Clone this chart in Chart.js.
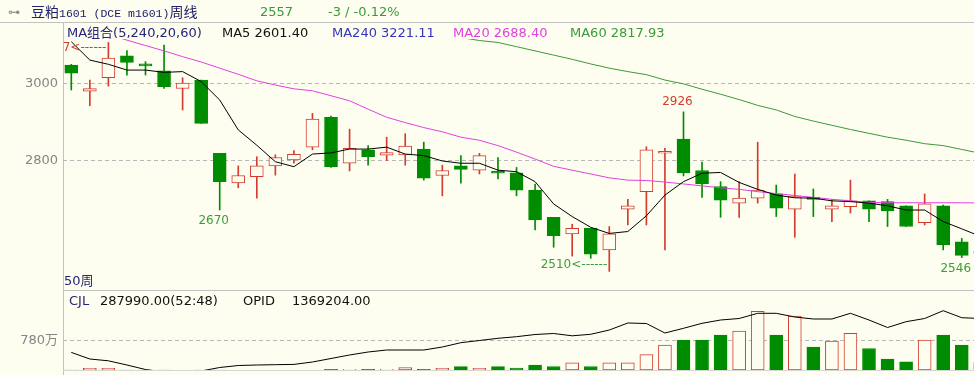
<!DOCTYPE html>
<html>
<head>
<meta charset="utf-8">
<script src="https://cdn.jsdelivr.net/npm/chart.js@4.4.0/dist/chart.umd.min.js"></script>
<style>
body{margin:0;background:#fefef0;width:974px;height:375px;overflow:hidden;position:relative;font-family:"DejaVu Sans","Noto Sans CJK SC",sans-serif;font-size:13px;}
.t{position:absolute;white-space:nowrap;line-height:14px;z-index:3;}
.ln{position:absolute;background:#c2c2c2;z-index:1;}
canvas{position:absolute;left:0;z-index:2;}
.cj{font-family:"Noto Sans CJK SC",sans-serif;font-size:14px;}
.mono{font-family:"Liberation Mono",monospace;font-size:11.5px;}
</style>
</head>
<body>
<div class="ln" style="left:0;top:22px;width:974px;height:1px"></div>
<div class="ln" style="left:63px;top:22px;width:1px;height:353px"></div>
<div class="ln" style="left:63px;top:290px;width:911px;height:1px"></div>
<div class="ln" style="left:63px;top:370px;width:911px;height:1px;background:#d6d6d6"></div>

<canvas id="pc" width="974" height="252" style="top:39px"></canvas>
<canvas id="vc" width="974" height="84" style="top:291px"></canvas>

<div class="t" style="left:8px;top:5px;color:#8a8a8a;font-size:12px">⊶</div>
<div class="t" style="left:31px;top:4px;color:#20206a"><span class="cj">豆粕</span><span class="mono">1601 (DCE m1601)</span><span class="cj">周线</span></div>
<div class="t" style="left:260px;top:5px;color:#3a9a3a">2557</div>
<div class="t" style="left:328px;top:5px;color:#3a9a3a">-3 / -0.12%</div>

<div class="t" style="left:67px;top:26px;color:#25257a">MA组合(5,240,20,60)</div>
<div class="t" style="left:222px;top:26px;color:#111">MA5 2601.40</div>
<div class="t" style="left:332px;top:26px;color:#3535c0">MA240 3221.11</div>
<div class="t" style="left:453px;top:26px;color:#e040e0">MA20 2688.40</div>
<div class="t" style="left:570px;top:26px;color:#3a9a3a">MA60 2817.93</div>

<div class="t" style="left:64px;top:274px;color:#25257a">50周</div>
<div class="t" style="left:69px;top:294px;color:#25257a">CJL</div>
<div class="t" style="left:100px;top:294px;color:#111">287990.00(52:48)</div>
<div class="t" style="left:243px;top:294px;color:#111">OPID</div>
<div class="t" style="left:292px;top:294px;color:#111">1369204.00</div>

<script>
// 50 weekly bars, the last one sits just past the right edge
var weeks = [1,2,3,4,5,6,7,8,9,10,11,12,13,14,15,16,17,18,19,20,21,22,23,24,25,26,27,28,29,30,31,32,33,34,35,36,37,38,39,40,41,42,43,44,45,46,47,48,49,50];
var open  = [3048,2980,3015,3072,3051,3033,2987,3009,2818,2741,2757,2785,2801,2834,2912,2792,2827,2813,2814,2829,2760,2785,2774,2770,2767,2722,2651,2608,2622,2566,2672,2718,2818,2855,2773,2731,2688,2701,2712,2672,2701,2672,2679,2694,2692,2681,2637,2681,2587,2560];
var high  = [3050,3009,3107,3086,3057,3100,3015,3009,2818,2785,2809,2814,2825,2922,2915,2881,2838,2860,2869,2847,2787,2812,2818,2807,2781,2738,2651,2633,2622,2627,2698,2835,2831,2926,2795,2744,2744,2847,2735,2764,2725,2698,2748,2694,2698,2681,2712,2683,2596,2572];
var low   = [2983,2942,2993,3022,3022,2987,2931,2896,2670,2728,2701,2761,2792,2827,2781,2772,2787,2799,2787,2748,2707,2740,2764,2751,2707,2618,2573,2550,2544,2510,2631,2631,2566,2759,2703,2651,2651,2688,2653,2599,2653,2640,2662,2640,2627,2627,2631,2566,2546,2548];
var close = [3027,2987,3066,3055,3046,2992,3001,2896,2744,2760,2785,2807,2815,2907,2783,2831,2809,2820,2837,2753,2773,2776,2812,2766,2722,2644,2603,2622,2555,2608,2681,2827,2822,2767,2738,2696,2701,2722,2675,2705,2698,2681,2694,2672,2668,2627,2686,2579,2552,2557];

var ma5  = [3109,3061,3050,3035,3035,3029,3031,3005,2957,2879,2839,2796,2783,2816,2819,2829,2829,2834,2816,2812,2798,2792,2792,2774,2770,2744,2686,2653,2625,2609,2614,2655,2709,2744,2766,2768,2742,2724,2709,2702,2701,2694,2692,2688,2681,2670,2670,2640,2621,2601.4];
var ma20 = [3156,3142,3128,3113,3099,3085,3070,3056,3040,3024,3007,2996,2986,2981,2968,2955,2933,2912,2898,2885,2874,2860,2852,2838,2821,2803,2784,2774,2764,2754,2748,2747,2743,2738,2733,2728,2724,2718,2713,2708,2703,2698,2694,2690,2689,2689,2689,2689,2689,2688.4];
var ma60 = [null,null,null,null,null,null,null,null,null,null,null,null,null,null,null,null,null,null,null,null,3129,3120,3112,3107,3096,3085,3074,3063,3051,3040,3031,3023,3009,2999,2985,2972,2958,2943,2931,2914,2902,2891,2880,2870,2860,2852,2843,2838,2828,2817.93];

// volume in 万, open interest (OPID) in 万
var volume = [1,45,45,1,1,1,1,1,1,1,1,1,1,1,19,19,19,19,62,19,45,89,45,89,54,135,94,194,94,194,194,412,672,807,807,941,1049,1579,941,1452,619,775,987,578,296,223,802,936,672,215];
var opid = [69.1,55.9,52.3,43.9,34.9,29.9,25.9,31.9,38.9,42.9,43.9,44.5,45.1,49.9,56.9,63.9,69.9,73.9,73.9,73.9,79.9,88.5,92.9,97.3,100.5,104.9,106.9,102.3,105.3,113.9,127.9,126.9,107.9,117.3,127.3,133.9,136.9,147.3,147.3,139.9,135.9,135.9,147.3,133.9,118.9,130.5,136.9,152.5,138.5,136.9];

var priceTicks = [2800, 3000];
var volTicks = [780];
// [bar index, 'high' or 'low', arrow after the number]
var extremes = [[2,'high',true],[8,'low',false],[29,'low',true],[33,'high',false],[48,'low',false]];

var BG = '#fefef0', RED = '#d43c30', GREEN = '#008c00';
var up = weeks.map(function (w, i) { return close[i] > open[i]; });
var xr = {min: -0.447, max: 48.66};

function pts(arr) { return arr.map(function (v, i) { return {x: i, y: v}; }); }

var priceMarks = {
  id: 'priceMarks',
  afterDatasetsDraw: function (chart) {
    var ctx = chart.ctx, a = chart.chartArea, x = chart.scales.x, y = chart.scales.y;
    ctx.save();
    ctx.font = '13px "DejaVu Sans"';
    ctx.fillStyle = '#858585';
    ctx.textAlign = 'right';
    ctx.textBaseline = 'middle';
    priceTicks.forEach(function (v) { ctx.fillText(String(v), 58, y.getPixelForValue(v)); });
    ctx.beginPath();
    ctx.rect(a.left, a.top, a.width, a.height);
    ctx.clip();
    ctx.font = '12px "DejaVu Sans"';
    extremes.forEach(function (e) {
      var i = e[0], isHigh = e[1] === 'high';
      var v = isHigh ? high[i] : low[i];
      var px = x.getPixelForValue(i), py = y.getPixelForValue(v);
      ctx.fillStyle = isHigh ? RED : '#3c9c3c';
      if (e[2]) {
        ctx.textAlign = 'right';
        ctx.fillText(v + '<------', px - 2, isHigh ? py + 5 : py - 7);
      } else {
        ctx.textAlign = 'center';
        ctx.fillText(String(v), px - 6, isHigh ? py - 10 : py + 11);
      }
    });
    ctx.restore();
  }
};

new Chart(document.getElementById('pc'), {
  type: 'bar',
  data: {
    datasets: [
      {type: 'line', data: pts(ma5), borderColor: '#000', borderWidth: 1, pointRadius: 0, order: 0},
      {type: 'line', data: pts(ma20), borderColor: '#e040e0', borderWidth: 1, pointRadius: 0, order: 0},
      {type: 'line', data: pts(ma60), borderColor: '#3a9a3a', borderWidth: 1, pointRadius: 0, order: 0},
      {
        data: weeks.map(function (w, i) { return {x: i, y: [open[i], close[i]]}; }),
        backgroundColor: up.map(function (u) { return u ? BG : GREEN; }),
        borderColor: up.map(function (u) { return u ? RED : GREEN; }),
        borderWidth: 1, borderSkipped: false, barThickness: 13, minBarLength: 2, grouped: false, order: 1
      },
      {
        data: weeks.map(function (w, i) { return {x: i, y: [low[i], high[i]]}; }),
        backgroundColor: up.map(function (u) { return u ? RED : GREEN; }),
        borderWidth: 0, barThickness: 1, grouped: false, order: 2
      }
    ]
  },
  options: {
    responsive: false,
    animation: false,
    events: [],
    layout: {padding: 0},
    plugins: {legend: {display: false}, tooltip: {enabled: false}},
    scales: {
      x: {type: 'linear', display: false, offset: false, min: xr.min, max: xr.max},
      y: {
        min: 2458.9, max: 3116, bounds: 'data',
        afterFit: function (s) { s.width = 63; },
        afterBuildTicks: function (s) { s.ticks = priceTicks.map(function (v) { return {value: v}; }); },
        ticks: {display: false},
        grid: {color: '#b8b8b8', drawTicks: false},
        border: {display: false, dash: [4, 3]}
      }
    }
  },
  plugins: [priceMarks]
});

var volMarks = {
  id: 'volMarks',
  afterDatasetsDraw: function (chart) {
    var ctx = chart.ctx, y = chart.scales.y;
    ctx.save();
    ctx.font = '13px "DejaVu Sans", "Noto Sans CJK SC"';
    ctx.fillStyle = '#858585';
    ctx.textAlign = 'right';
    ctx.textBaseline = 'middle';
    volTicks.forEach(function (v) { ctx.fillText(v + '万', 58, y.getPixelForValue(v)); });
    ctx.restore();
  }
};

new Chart(document.getElementById('vc'), {
  type: 'bar',
  data: {
    datasets: [
      {type: 'line', data: pts(opid), yAxisID: 'y2', borderColor: '#000', borderWidth: 1, pointRadius: 0, order: 0},
      {
        data: pts(volume),
        backgroundColor: up.map(function (u) { return u ? BG : GREEN; }),
        borderColor: up.map(function (u) { return u ? RED : GREEN; }),
        borderWidth: 1, borderSkipped: false, barThickness: 13, grouped: false, order: 1
      }
    ]
  },
  options: {
    responsive: false,
    animation: false,
    events: [],
    layout: {padding: {bottom: 5}},
    plugins: {legend: {display: false}, tooltip: {enabled: false}},
    scales: {
      x: {type: 'linear', display: false, offset: false, min: xr.min, max: xr.max},
      y: {
        min: 0, max: 2124.8, bounds: 'data',
        afterFit: function (s) { s.width = 63; },
        afterBuildTicks: function (s) { s.ticks = volTicks.map(function (v) { return {value: v}; }); },
        ticks: {display: false},
        grid: {color: '#b8b8b8', drawTicks: false},
        border: {display: false, dash: [4, 3]}
      },
      y2: {display: false, min: 33.9, max: 191.9, bounds: 'data'}
    }
  },
  plugins: [volMarks]
});
</script>
</body>
</html>
